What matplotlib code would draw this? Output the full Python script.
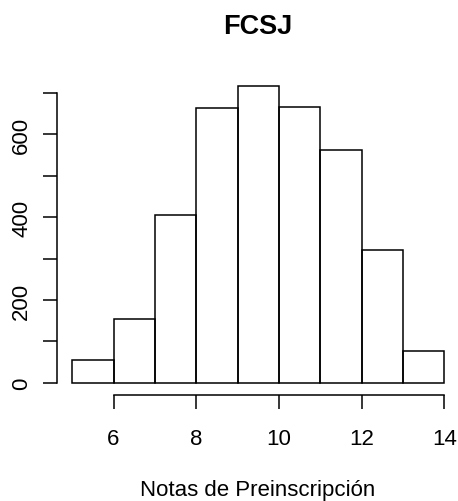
import matplotlib
matplotlib.use('Agg')
import matplotlib.pyplot as plt
import numpy as np

# histogram data
bin_edges = [5, 6, 7, 8, 9, 10, 11, 12, 13, 14]
counts = [56, 155, 406, 663, 716, 667, 562, 321, 76]
x_ticks = [6, 8, 10, 12, 14]
y_ticks = [0, 100, 200, 300, 400, 500, 600, 700]
y_labels = ['0', '', '200', '', '400', '', '600', '']
title = 'FCSJ'
xlabel = 'Notas de Preinscripción'

plt.rcParams['font.family'] = ['Liberation Sans', 'DejaVu Sans']

W, H = 458, 502
fig = plt.figure(figsize=(W / 100, H / 100), dpi=100)

# plot region in pixels (R style, 4% padding around data)
left, right, bottom, top = 57.3, 459.2, 395.6, 75.5
ax = fig.add_axes([left / W, 1 - bottom / H, (right - left) / W, (bottom - top) / H])

edges = np.array(bin_edges)
ax.bar(edges[:-1], counts, width=np.diff(edges), align='edge',
       fill=False, edgecolor='black', linewidth=1.1)

xr = edges[-1] - edges[0]
ax.set_xlim(edges[0] - 0.04 * xr, edges[-1] + 0.04 * xr)
ymax = max(counts)
ax.set_ylim(-0.04 * ymax, 1.04 * ymax)

for s in ['top', 'right']:
    ax.spines[s].set_visible(False)
ax.spines['left'].set_bounds(y_ticks[0], y_ticks[-1])
ax.spines['bottom'].set_bounds(x_ticks[0], x_ticks[-1])
ax.spines['left'].set_linewidth(1.1)
ax.spines['bottom'].set_linewidth(1.1)

ax.set_xticks(x_ticks)
ax.set_xticklabels([str(t) for t in x_ticks])
ax.set_yticks(y_ticks)
ax.set_yticklabels(y_labels, rotation=90, va='center')
ax.tick_params(axis='both', direction='out', length=10, width=1.1, labelsize=16)
ax.tick_params(axis='x', pad=14)
ax.tick_params(axis='y', pad=8)

fig.text(258 / W, 1 - 34 / H, title, ha='center', va='baseline',
         fontsize=19.5, fontweight='bold')
fig.text(258 / W, 1 - 496 / H, xlabel, ha='center', va='baseline', fontsize=16)

fig.savefig('out.png', dpi=100, facecolor='white')
